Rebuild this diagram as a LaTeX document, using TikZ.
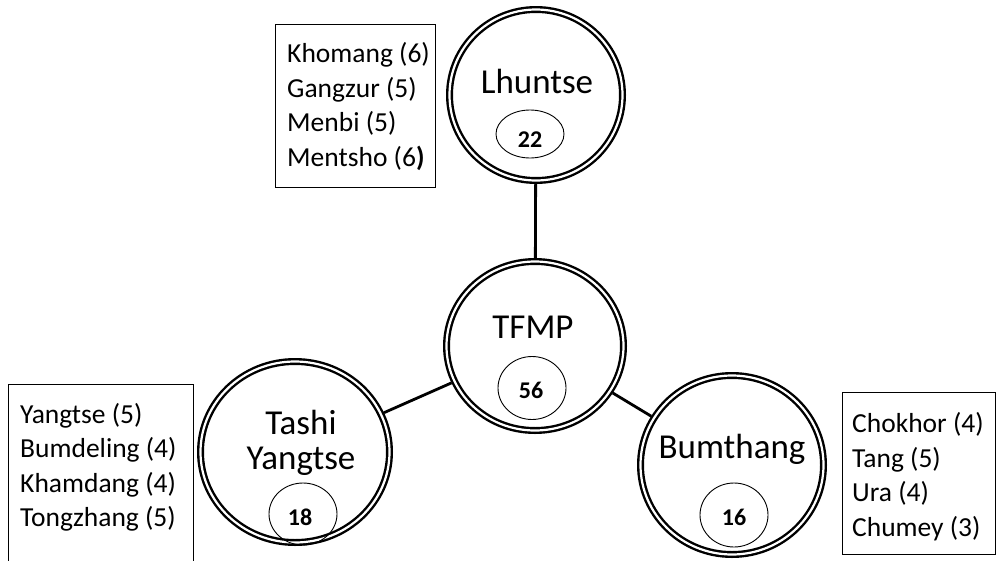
\documentclass[tikz,border=0pt]{standalone}
\usepackage{fontspec}
\setmainfont{Carlito}
\usetikzlibrary{shapes.geometric}

\begin{document}
\begin{tikzpicture}[x=1pt,y=-1pt,
  district/.style={ellipse, draw, double, line width=2.4pt, double distance=2.2pt,
                   inner sep=0pt, outer sep=3.4pt},
  countring/.style={ellipse, draw, line width=0.9pt, inner sep=0pt, minimum width=68pt},
  listbox/.style={rectangle, draw, line width=1pt, inner sep=0pt, anchor=north west},
  linkline/.style={line width=2.8pt},
  distlabel/.style={font=\fontsize{35}{42}\selectfont, anchor=base, inner sep=0pt},
  cntlabel/.style={font=\bfseries\fontsize{24}{28}\selectfont, anchor=base, inner sep=0pt},
  gewog/.style={font=\fontsize{27.5}{33}\selectfont, anchor=base west, inner sep=0pt}
]
\clip (0,0) rectangle (996,560);

% district rings
\node[district, minimum width=173pt, minimum height=171pt] (lhu)   at (536,95)  {};
\node[district, minimum width=177pt, minimum height=169pt] (tfmp)  at (535,346) {};
\node[district, minimum width=189pt, minimum height=181pt] (tashi) at (295,452) {};
\node[district, minimum width=183pt, minimum height=179pt] (bum)   at (732,465) {};

% links to the centre
\draw[linkline] (lhu) -- (tfmp);
\draw[linkline] (tfmp) -- (tashi);
\draw[linkline] (tfmp) -- (bum);

% district names
\node[distlabel] (lhuN)   at (537,93)  {Lhuntse};
\node[distlabel] (tfmpN)  at (533,338) {TFMP};
\node[distlabel] (tashiN) at (301,434) {Tashi};
\node[distlabel] (tashiM) at (301,469) {Yangtse};
\node[distlabel] (bumN)   at (732,458) {Bumthang};

% counts
\node[countring, minimum height=48pt] (lhuC)   at (530,134) {};
\node[countring, minimum height=63pt] (tfmpC)  at (532,388) {};
\node[countring, minimum height=62pt] (tashiC) at (303,514) {};
\node[countring, minimum height=64pt] (bumC)   at (734,515) {};
\node[cntlabel] (lhuV)   at (530,147) {22};
\node[cntlabel] (tfmpV)  at (531,398) {56};
\node[cntlabel] (tashiV) at (300,525) {18};
\node[cntlabel] (bumV)   at (734,525) {16};

% gewog lists
\node[listbox, minimum width=160pt, minimum height=163pt] (listL) at (275,24) {};
\node[listbox, minimum width=185pt, minimum height=190pt] (listT) at (8,384) {};
\node[listbox, minimum width=152.5pt, minimum height=162pt] (listB) at (842,392) {};

\node[gewog] (l1) at (287,62)  {Khomang (6)};
\node[gewog] (l2) at (287,97)  {Gangzur (5)};
\node[gewog] (l3) at (287,131) {Menbi (5)};
\node[gewog] (l4) at (287,166) {Mentsho (6\textbf{)}};

\node[gewog] (t1) at (20,423) {Yangtse (5)};
\node[gewog] (t2) at (20,457) {Bumdeling (4)};
\node[gewog] (t3) at (20,492) {Khamdang (4)};
\node[gewog] (t4) at (20,526) {Tongzhang (5)};

\node[gewog] (b1) at (852,432) {Chokhor (4)};
\node[gewog] (b2) at (852,467) {Tang (5)};
\node[gewog] (b3) at (852,501) {Ura (4)};
\node[gewog] (b4) at (852,536) {Chumey (3)};
\end{tikzpicture}
\end{document}
